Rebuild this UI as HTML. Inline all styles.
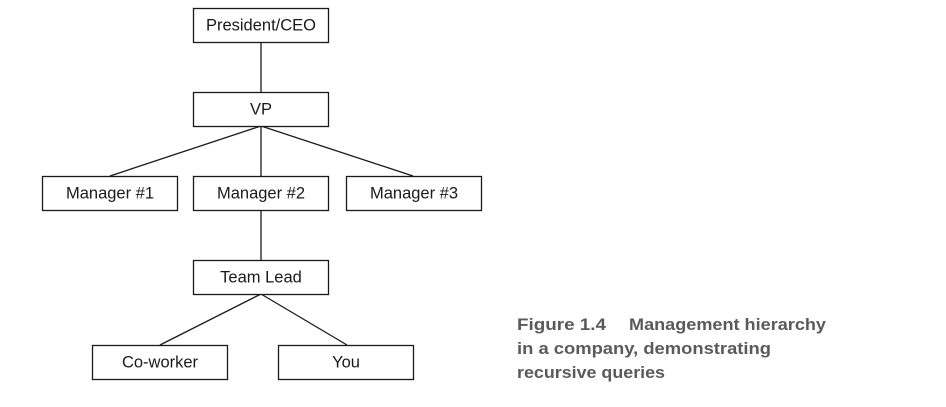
<!DOCTYPE html>
<html><head><style>
html,body{margin:0;padding:0;background:#fff;width:946px;height:407px;overflow:hidden}
</style></head><body>
<svg width="946" height="407" viewBox="0 0 946 407" xmlns="http://www.w3.org/2000/svg">
<g stroke="#1a1a1a" stroke-width="1.3" fill="none">
<line x1="261" y1="42" x2="261" y2="92"/>
<line x1="261" y1="126" x2="110" y2="176"/>
<line x1="261" y1="126" x2="261" y2="176"/>
<line x1="261" y1="126" x2="413" y2="176"/>
<line x1="261" y1="210" x2="261" y2="260"/>
<line x1="261" y1="294" x2="160" y2="345"/>
<line x1="261" y1="294" x2="347" y2="345"/>
<rect x="193.5" y="8.5" width="135" height="34" fill="#fff"/>
<rect x="193.5" y="92.5" width="135" height="34" fill="#fff"/>
<rect x="42.5" y="176.5" width="135" height="34" fill="#fff"/>
<rect x="193.5" y="176.5" width="135" height="34" fill="#fff"/>
<rect x="346.5" y="176.5" width="135" height="34" fill="#fff"/>
<rect x="193.5" y="260.5" width="135" height="34" fill="#fff"/>
<rect x="92.5" y="345.5" width="135" height="34" fill="#fff"/>
<rect x="278.5" y="345.5" width="135" height="34" fill="#fff"/>
</g>
<g font-family="Liberation Sans, sans-serif" font-size="16.5" fill="#1a1a1a" text-anchor="middle">
<text x="261" y="30.5">President/CEO</text>
<text x="261" y="114.5">VP</text>
<text x="110" y="198.5">Manager #1</text>
<text x="261" y="198.5">Manager #2</text>
<text x="414" y="198.5">Manager #3</text>
<text x="261" y="282.5">Team Lead</text>
<text x="160" y="367.5">Co-worker</text>
<text x="346" y="367.5">You</text>
</g>
<g font-family="Liberation Sans, sans-serif" font-size="17" font-weight="bold" fill="#5a5a5a">
<text x="517" y="330" textLength="89" lengthAdjust="spacingAndGlyphs">Figure 1.4</text>
<text x="629" y="330" textLength="197" lengthAdjust="spacingAndGlyphs">Management hierarchy</text>
<text x="517" y="354" textLength="254" lengthAdjust="spacingAndGlyphs">in a company, demonstrating</text>
<text x="517" y="378" textLength="148" lengthAdjust="spacingAndGlyphs">recursive queries</text>
</g>
</svg>
</body></html>
